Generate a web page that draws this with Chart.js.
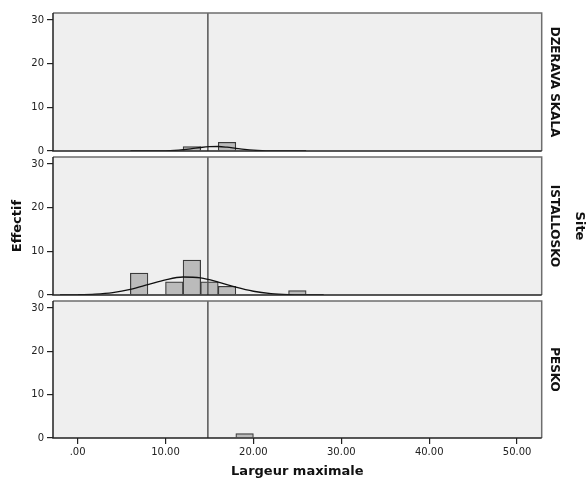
<!DOCTYPE html>
<html lang="fr">
<head>
    <meta charset="UTF-8">
    <title>Largeur maximale par site</title>
    <script src="https://cdn.jsdelivr.net/npm/chart.js"></script>
    <style>
        body { margin: 0; background: #fff; }
        #wrap { position: relative; width: 588px; height: 480px; }
        #wrap canvas { position: absolute; left: 0; top: 0; }
    </style>
</head>
<body>
    <div id="wrap">
        <canvas id="panel1" width="588" height="480"></canvas>
        <canvas id="panel2" width="588" height="480"></canvas>
        <canvas id="panel3" width="588" height="480"></canvas>
    </div>

    <script>
        // histogram bins (centres, width 2)
        const binCenters = [1, 3, 5, 7, 9, 11, 13, 15, 17, 19, 21, 23, 25, 27];
        const sites = ['DZERAVA SKALA', 'ISTALLOSKO', 'PESKO'];
        const countsDzerava = [0, 0, 0, 0, 0, 0, 1, 0, 2, 0, 0, 0, 0, 0];
        const countsIstallosko = [0, 0, 0, 5, 0, 3, 8, 3, 2, 0, 0, 0, 1, 0];
        const countsPesko = [0, 0, 0, 0, 0, 0, 0, 0, 0, 1, 0, 0, 0, 0];

        // normal curves
        const curveDzeravaX = [6, 8, 10, 11, 12, 13, 14, 15, 16, 17, 18, 19, 20, 21, 22, 24, 26];
        const curveDzeravaY = [0, 0.01, 0.05, 0.13, 0.29, 0.53, 0.8, 0.99, 1.03, 0.88, 0.62, 0.37, 0.18, 0.07, 0.02, 0, 0];
        const curveIstalloskoX = [-2, 0, 2, 4, 6, 8, 10, 12, 14, 16, 18, 20, 22, 24, 26, 28];
        const curveIstalloskoY = [0.01, 0.05, 0.19, 0.55, 1.27, 2.36, 3.48, 4.12, 3.9, 2.95, 1.78, 0.86, 0.33, 0.1, 0.03, 0.01];

        const refLineX = 14.82;
        const xTicks = [0, 10, 20, 30, 40, 50];
        const yTicks = [0, 10, 20, 30];
        const xMin = -2.8, xMax = 52.8, yMax = 31.6;

        const panels = [
            { id: 'panel1', label: sites[0], counts: countsDzerava, cx: curveDzeravaX, cy: curveDzeravaY, top: 13, bottom: 151 },
            { id: 'panel2', label: sites[1], counts: countsIstallosko, cx: curveIstalloskoX, cy: curveIstalloskoY, top: 157, bottom: 295 },
            { id: 'panel3', label: sites[2], counts: countsPesko, cx: null, cy: null, top: 301, bottom: 438 }
        ];

        const FONT = '"DejaVu Sans", Verdana, sans-serif';

        const panelFrame = {
            id: 'panelFrame',
            beforeDatasetsDraw(chart) {
                const a = chart.chartArea, ctx = chart.ctx;
                ctx.save();
                ctx.fillStyle = '#efefef';
                ctx.fillRect(a.left, a.top, a.right - a.left, a.bottom - a.top);
                ctx.restore();
            },
            afterDraw(chart, args, opts) {
                const a = chart.chartArea, ctx = chart.ctx;
                ctx.save();
                ctx.strokeStyle = '#6e6e6e';
                ctx.lineWidth = 1.5;
                ctx.beginPath();
                ctx.moveTo(a.left, a.top);
                ctx.lineTo(a.right, a.top);
                ctx.lineTo(a.right, a.bottom);
                ctx.stroke();
                ctx.strokeStyle = '#222';
                ctx.beginPath();
                ctx.moveTo(a.left, a.top);
                ctx.lineTo(a.left, a.bottom);
                ctx.lineTo(a.right, a.bottom);
                ctx.stroke();

                ctx.fillStyle = '#111';
                ctx.textAlign = 'center';
                ctx.textBaseline = 'middle';
                ctx.font = 'bold 12px ' + FONT;
                ctx.translate(a.right + 12, (a.top + a.bottom) / 2);
                ctx.rotate(Math.PI / 2);
                ctx.fillText(opts.label, 0, 0);
                if (opts.site) {
                    ctx.font = 'bold 13px ' + FONT;
                    ctx.fillText('Site', 0, -26);
                }
                ctx.restore();
            }
        };

        panels.forEach(function (p, i) {
            const last = i === panels.length - 1;
            const datasets = [];

            if (p.cx) {
                datasets.push({
                    type: 'line',
                    data: p.cx.map((x, k) => ({ x: x, y: p.cy[k] })),
                    borderColor: '#111',
                    borderWidth: 1.3,
                    pointRadius: 0,
                    cubicInterpolationMode: 'monotone',
                    fill: false,
                    order: 1
                });
            }
            datasets.push({
                type: 'line',
                data: [{ x: refLineX, y: 0 }, { x: refLineX, y: yMax }],
                borderColor: '#555',
                borderWidth: 1.5,
                pointRadius: 0,
                order: 2
            });
            datasets.push({
                type: 'bar',
                data: binCenters.map((x, k) => ({ x: x, y: p.counts[k] })),
                backgroundColor: '#bbbbbb',
                borderColor: '#3a3a3a',
                borderWidth: 1.2,
                borderSkipped: 'bottom',
                barPercentage: 1,
                categoryPercentage: 1,
                order: 3
            });

            new Chart(document.getElementById(p.id), {
                type: 'bar',
                data: { datasets: datasets },
                options: {
                    responsive: false,
                    animation: false,
                    devicePixelRatio: 1,
                    events: [],
                    layout: {
                        padding: { left: 0, right: 46.3, top: p.top, bottom: last ? 0 : 480 - p.bottom }
                    },
                    plugins: {
                        legend: { display: false },
                        tooltip: { enabled: false },
                        panelFrame: { label: p.label, site: i === 1 }
                    },
                    scales: {
                        x: {
                            type: 'linear',
                            display: last,
                            min: xMin,
                            max: xMax,
                            offset: false,
                            afterFit: function (s) { s.height = last ? 480 - p.bottom : 0; },
                            afterBuildTicks: function (s) { s.ticks = xTicks.map(v => ({ value: v })); },
                            grid: { offset: false, drawOnChartArea: false, tickLength: 6, color: '#222', lineWidth: 1.2 },
                            border: { display: false },
                            ticks: {
                                padding: 2,
                                color: '#222',
                                font: { family: FONT, size: 10 },
                                maxRotation: 0,
                                callback: v => v === 0 ? '.00' : v.toFixed(2)
                            },
                            title: {
                                display: true,
                                text: 'Largeur maximale',
                                color: '#111',
                                font: { family: FONT, size: 13, weight: 'bold' },
                                padding: { top: 0, bottom: 1 }
                            }
                        },
                        y: {
                            type: 'linear',
                            min: 0,
                            max: yMax,
                            afterFit: function (s) { s.width = 53; },
                            afterBuildTicks: function (s) { s.ticks = yTicks.map(v => ({ value: v })); },
                            grid: { drawOnChartArea: false, tickLength: 6, color: '#222', lineWidth: 1.2 },
                            border: { display: false },
                            ticks: {
                                padding: 3,
                                color: '#222',
                                font: { family: FONT, size: 10 }
                            },
                            title: {
                                display: i === 1,
                                text: 'Effectif',
                                color: '#111',
                                font: { family: FONT, size: 13, weight: 'bold' },
                                padding: { top: 10, bottom: 0 }
                            }
                        }
                    }
                },
                plugins: [panelFrame]
            });
        });
    </script>
</body>
</html>
